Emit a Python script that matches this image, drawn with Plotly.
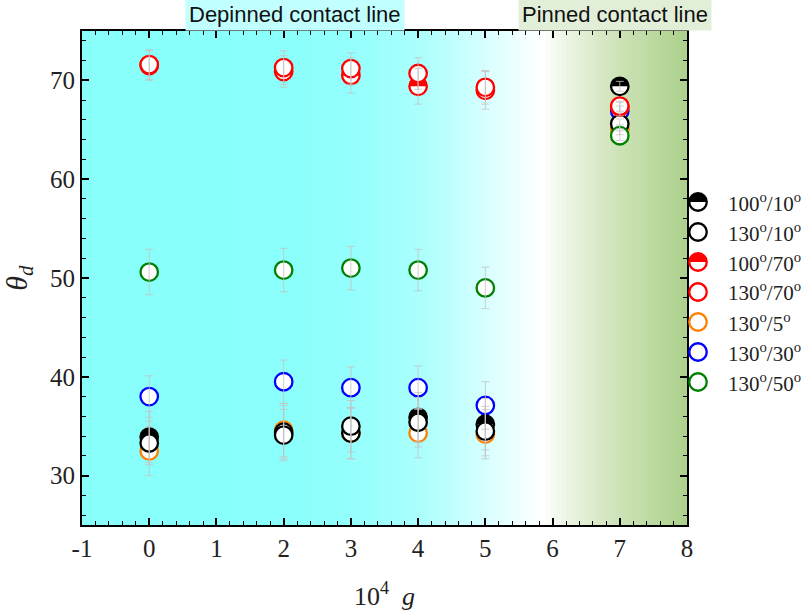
import plotly.graph_objects as go

# ---------------- data ----------------
g_vals = [0, 2, 3, 4, 5, 7]

series_names = ["100°/10°", "130°/10°", "100°/70°", "130°/70°", "130°/5°", "130°/30°", "130°/50°"]
legend_labels = ["100<sup>o</sup>/10<sup>o</sup>", "130<sup>o</sup>/10<sup>o</sup>",
                 "100<sup>o</sup>/70<sup>o</sup>", "130<sup>o</sup>/70<sup>o</sup>",
                 "130<sup>o</sup>/5<sup>o</sup>", "130<sup>o</sup>/30<sup>o</sup>",
                 "130<sup>o</sup>/50<sup>o</sup>"]

theta_100_10 = [33.9, 34.4, 34.3, 35.9, 35.2, 69.4]
theta_130_10 = [33.3, 34.1, 35.0, 35.4, 34.5, 65.6]
theta_100_70 = [71.5, 70.9, 70.5, 69.4, 69.0, 67.3]
theta_130_70 = [71.6, 71.3, 71.2, 70.7, 69.3, 67.4]
theta_130_5 = [32.5, 34.6, 34.3, 34.3, 34.2, 65.0]
theta_130_30 = [38.0, 39.5, 38.9, 38.9, 37.1, 66.9]
theta_130_50 = [50.6, 50.8, 51.0, 50.8, 49.0, 64.4]

err_100_10 = [2.6, 2.7, 2.6, 2.5, 2.6, 0.5]
err_130_10 = [2.2, 2.6, 2.6, 2.5, 2.5, 0.5]
err_100_70 = [1.5, 1.6, 1.8, 1.8, 1.9, 0.5]
err_130_70 = [1.5, 1.7, 1.6, 1.6, 1.7, 0.5]
err_130_5 = [2.5, 2.7, 2.6, 2.5, 2.5, 0.5]
err_130_30 = [2.1, 2.2, 2.1, 2.2, 2.4, 0.5]
err_130_50 = [2.3, 2.2, 2.2, 2.1, 2.1, 0.5]

x_tick_vals = [-1, 0, 1, 2, 3, 4, 5, 6, 7, 8]
x_tick_text = ["-1", "0", "1", "2", "3", "4", "5", "6", "7", "8"]
y_tick_vals = [30, 40, 50, 60, 70]

# background gradient stops (x value, rgb)
bg_stop_x = [-1.0, 2.0, 3.0, 4.0, 4.8, 5.4, 5.85, 6.3, 7.0, 8.0]
bg_stop_rgb = [(136, 255, 251), (138, 255, 251), (148, 255, 252), (170, 255, 253),
               (205, 255, 255), (235, 255, 255), (255, 255, 255), (232, 242, 222),
               (205, 226, 182), (172, 209, 140)]

# ---------------- styling ----------------
colors = {"100°/10°": "#000000", "130°/10°": "#000000", "100°/70°": "#ff0000",
          "130°/70°": "#ff0000", "130°/5°": "#ff8000", "130°/30°": "#0000ff",
          "130°/50°": "#008000"}
half_filled = {"100°/10°", "100°/70°"}
values = {"100°/10°": theta_100_10, "130°/10°": theta_130_10, "100°/70°": theta_100_70,
          "130°/70°": theta_130_70, "130°/5°": theta_130_5, "130°/30°": theta_130_30,
          "130°/50°": theta_130_50}
errors = {"100°/10°": err_100_10, "130°/10°": err_130_10, "100°/70°": err_100_70,
          "130°/70°": err_130_70, "130°/5°": err_130_5, "130°/30°": err_130_30,
          "130°/50°": err_130_50}
draw_order = ["130°/5°", "130°/30°", "100°/10°", "130°/10°", "100°/70°", "130°/70°", "130°/50°"]

SERIF = "Liberation Serif, Times New Roman, serif"
SANS = "Liberation Sans, Arial, sans-serif"

MSIZE = 17.5
MLINE = 2.3
R = MSIZE / 2.0
K = 0.5523 * R

PATH_FULL = (f"M {-R},0 C {-R},{K} {-K},{R} 0,{R} C {K},{R} {R},{K} {R},0 "
             f"C {R},{-K} {K},{-R} 0,{-R} C {-K},{-R} {-R},{-K} {-R},0 Z")
PATH_TOP = f"M {-R},0 C {-R},{K} {-K},{R} 0,{R} C {K},{R} {R},{K} {R},0 Z"


def half_marker_shapes(xa, ya, color, xref, yref, layer):
    base = dict(type="path", xsizemode="pixel", ysizemode="pixel", xanchor=xa, yanchor=ya,
                xref=xref, yref=yref, layer=layer, line=dict(width=0))
    return [dict(base, path=PATH_FULL, fillcolor="white"),
            dict(base, path=PATH_TOP, fillcolor=color)]


def interp_color(x):
    for i in range(len(bg_stop_x) - 1):
        if bg_stop_x[i] <= x <= bg_stop_x[i + 1]:
            t = (x - bg_stop_x[i]) / (bg_stop_x[i + 1] - bg_stop_x[i])
            c0, c1 = bg_stop_rgb[i], bg_stop_rgb[i + 1]
            return "rgb(%d,%d,%d)" % tuple(round(c0[j] + (c1[j] - c0[j]) * t) for j in range(3))
    return "rgb(%d,%d,%d)" % bg_stop_rgb[-1]


fig = go.Figure()
shapes = []

# gradient background (overlapping strips to avoid seams)
n_steps = 120
x_lo, x_hi = -1.0, 8.0
step = (x_hi - x_lo) / n_steps
for i in range(n_steps):
    xa = x_lo + i * step
    shapes.append(dict(type="rect", xref="x", yref="paper", x0=xa,
                       x1=min(xa + step * 1.6, x_hi), y0=0, y1=1,
                       fillcolor=interp_color(xa + step / 2), line=dict(width=0),
                       layer="below"))

# half-fill shapes for half-filled series (drawn beneath traces)
for name in series_names:
    if name in half_filled:
        for xv, yv in zip(g_vals, values[name]):
            shapes += half_marker_shapes(xv, yv, colors[name], "x", "y", "between")

# marker traces
for name in draw_order:
    fill = "rgba(0,0,0,0)" if name in half_filled else "white"
    fig.add_trace(go.Scatter(
        x=g_vals, y=values[name], mode="markers", name=name, showlegend=False,
        marker=dict(symbol="circle", size=MSIZE, color=fill,
                    line=dict(color=colors[name], width=MLINE)),
    ))

# error bars drawn on top of markers
for name in draw_order:
    fig.add_trace(go.Scatter(
        x=g_vals, y=values[name], mode="markers", showlegend=False, hoverinfo="skip",
        marker=dict(size=1, color="rgba(0,0,0,0)"),
        error_y=dict(type="data", array=errors[name], color="rgba(195,195,195,0.8)",
                     thickness=1, width=4),
    ))

FIG_W, FIG_H = 809, 616
M_L, M_R, M_T, M_B = 82, 122, 31, 91
PLOT_W = FIG_W - M_L - M_R
PLOT_H = FIG_H - M_T - M_B


def px_to_paper_x(px):
    return (px - M_L) / PLOT_W


def px_to_paper_y(py):
    return (M_T + PLOT_H - py) / PLOT_H


# manual legend
annotations = []
leg_marker_x = px_to_paper_x(698)
leg_text_x = px_to_paper_x(726)
for i, (name, lab) in enumerate(zip(series_names, legend_labels)):
    yp = px_to_paper_y(202 + 30 * i)
    if name in half_filled:
        shapes += half_marker_shapes(leg_marker_x, yp, colors[name], "paper", "paper", "above")
        ring_fill = "rgba(0,0,0,0)"
    else:
        ring_fill = "white"
    shapes.append(dict(type="circle", xsizemode="pixel", ysizemode="pixel",
                       xanchor=leg_marker_x, yanchor=yp, xref="paper", yref="paper",
                       x0=-R, x1=R, y0=-R, y1=R, fillcolor=ring_fill,
                       line=dict(color=colors[name], width=MLINE), layer="above"))
    annotations.append(dict(x=leg_text_x, y=yp, xref="paper", yref="paper", text=lab,
                            showarrow=False, xanchor="left", yanchor="middle",
                            font=dict(family=SERIF, size=21, color="#222")))

# region labels
lab_y = px_to_paper_y(14)
annotations.append(dict(x=px_to_paper_x(295), y=lab_y, xref="paper", yref="paper",
                        text="Depinned contact line", showarrow=False,
                        xanchor="center", yanchor="middle", bgcolor="#c2ffff",
                        borderpad=3,
                        font=dict(family=SANS, size=22, color="#111")))
annotations.append(dict(x=px_to_paper_x(615), y=lab_y, xref="paper", yref="paper",
                        text="Pinned contact line", showarrow=False,
                        xanchor="center", yanchor="middle", bgcolor="#e2efd8",
                        borderpad=3,
                        font=dict(family=SANS, size=22, color="#111")))

axis_common = dict(showline=True, linecolor="black", linewidth=2, mirror="allticks",
                   ticks="inside", ticklen=7, tickwidth=1.5, tickcolor="black",
                   showgrid=False, zeroline=False, automargin=False,
                   tickfont=dict(family=SERIF, size=25, color="#222"))

fig.update_layout(
    width=FIG_W, height=FIG_H,
    margin=dict(l=M_L, r=M_R, t=M_T, b=M_B),
    paper_bgcolor="white", plot_bgcolor="white",
    font=dict(family=SERIF),
    showlegend=False,
    shapes=shapes,
    annotations=annotations,
    xaxis=dict(axis_common, range=[-1, 8], tickvals=x_tick_vals, ticktext=x_tick_text,
               minor=dict(dtick=0.2, ticks="inside", ticklen=4, tickwidth=1.2, tickcolor="black",
                          showgrid=False),
               title=dict(text="10<sup>4</sup>  <i>g</i>", standoff=26,
                          font=dict(family=SERIF, size=26, color="#222"))),
    yaxis=dict(axis_common, range=[25, 75], tickvals=y_tick_vals,
               minor=dict(dtick=2, ticks="inside", ticklen=4, tickwidth=1.2, tickcolor="black",
                          showgrid=False),
               title=dict(text="<i>θ<sub>d</sub></i>", standoff=14,
                          font=dict(family=SERIF, size=30, color="#222"))),
)

# remove the browser's default 8px body margin so the figure fills the window exactly
fig.write_html("out.html", config={"displayModeBar": False},
               post_script="document.body.style.margin='0px';")
